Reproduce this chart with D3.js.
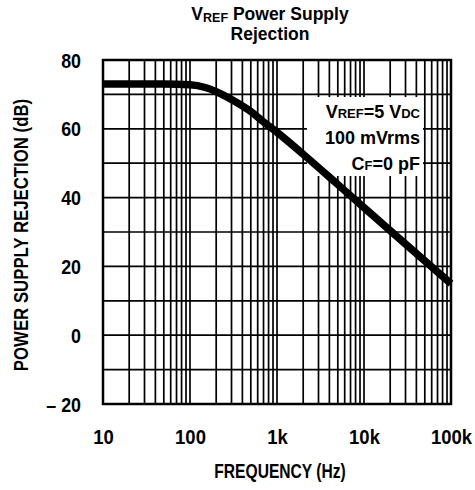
<!DOCTYPE html>
<html>
<head>
<meta charset="utf-8">
<script src="https://cdn.jsdelivr.net/npm/d3@7"></script>
<style>
  html, body { margin: 0; padding: 0; background: #fff; }
  svg { display: block; }
  text { font-family: "Liberation Sans", Arial, Helvetica, sans-serif; font-weight: bold; fill: #000; }
</style>
</head>
<body>
<svg id="chart" width="475" height="490"></svg>
<script>
// ---- data ----
const freqHz = [10, 50, 100, 150, 200, 300, 500, 700, 1000, 2000, 5000, 10000, 20000, 50000, 100000];
const rejectionDb = [73, 73, 72.8, 72, 70.8, 68.5, 65, 62, 59, 52.6, 43.8, 37.1, 30.4, 21.6, 15];
const xTickValues = [10, 100, 1000, 10000, 100000];
const xTickLabels = ["10", "100", "1k", "10k", "100k"];
const yTickValues = [-20, 0, 20, 40, 60, 80];
const yGridValues = [-10, 0, 10, 20, 30, 40, 50, 60, 70];
const annotationLines = [
  [["V", 0], ["REF", 1], ["=5 V", 0], ["DC", 1]],
  [["100 mVrms", 0]],
  [["C", 0], ["F", 1], ["=0 pF", 0]]
];

// ---- layout ----
const svg = d3.select("#chart");
const pLeft = 103, pRight = 451, pTop = 60, pBottom = 404;
const x = d3.scaleLog().domain([10, 100000]).range([pLeft, pRight]);
const y = d3.scaleLinear().domain([-20, 80]).range([pBottom, pTop]);

// condensed text helper
function ctext(parent, tx, ty, str, size, sx, anchor, rot) {
  const gg = parent.append("g").attr("transform", `translate(${tx},${ty}) rotate(${rot || 0}) scale(${sx},1)`);
  return gg.append("text").attr("text-anchor", anchor).style("font-size", size + "px").text(str);
}

// minor log grid (1..9 per decade)
const vGrid = [];
for (let d = 10; d < 100000; d *= 10) for (let k = 2; k <= 9; k++) vGrid.push(d * k);
for (let d = 100; d < 100000; d *= 10) vGrid.push(d);

const g = svg.append("g");
g.selectAll("line.v").data(vGrid).join("line")
  .attr("x1", d => x(d)).attr("x2", d => x(d))
  .attr("y1", pTop).attr("y2", pBottom)
  .attr("stroke", "#000").attr("stroke-width", 1.7);
g.selectAll("line.h").data(yGridValues).join("line")
  .attr("x1", pLeft).attr("x2", pRight)
  .attr("y1", d => y(d)).attr("y2", d => y(d))
  .attr("stroke", "#000").attr("stroke-width", 1.7);

// annotation background (white box hides grid)
g.append("rect").attr("x", 307).attr("y", 97).attr("width", 116).attr("height", 79).attr("fill", "#fff");

// border
g.append("rect").attr("x", pLeft).attr("y", pTop).attr("width", pRight - pLeft).attr("height", pBottom - pTop)
  .attr("fill", "none").attr("stroke", "#000").attr("stroke-width", 2.5);

// curve
const pts = freqHz.map((f, i) => [f, rejectionDb[i]]);
g.append("path").datum(pts)
  .attr("d", d3.line().x(d => x(d[0])).y(d => y(d[1])).curve(d3.curveMonotoneX))
  .attr("fill", "none").attr("stroke", "#000").attr("stroke-width", 7.5)
  .attr("stroke-linecap", "butt");

// annotation text
annotationLines.forEach((parts, i) => {
  const t = g.append("text").attr("x", 420).attr("y", 118 + i * 26)
    .attr("text-anchor", "end").style("font-size", "18px");
  parts.forEach(([s, sub]) => {
    t.append("tspan").text(s).style("font-size", sub ? "13px" : "18px");
  });
});

// x axis labels
const xAxis = d3.axisBottom(x).tickValues(xTickValues).tickFormat((d, i) => xTickLabels[i]).tickSize(0).tickPadding(0);
const xa = svg.append("g").attr("transform", `translate(0, 444)`).call(xAxis);
xa.attr("font-family", null).attr("font-size", null);
xa.select(".domain").remove();
xa.selectAll("text").attr("dy", 0).attr("y", 0).style("font-size", "21px").attr("transform", "scale(0.88,1)");

// y axis labels
const yAxis = d3.axisLeft(y).tickValues(yTickValues).tickFormat(d => d < 0 ? "\u2013 " + Math.abs(d) : d).tickSize(0).tickPadding(0);
const ya = svg.append("g").attr("transform", `translate(81, 0)`).call(yAxis);
ya.attr("font-family", null).attr("font-size", null);
ya.select(".domain").remove();
ya.selectAll("text").attr("x", 0).attr("dy", "0.34em").style("font-size", "21px").attr("transform", "scale(0.85,1)");

// axis titles
ctext(svg, 280, 478, "FREQUENCY (Hz)", 20, 0.78, "middle");
ctext(svg, 28, 235, "POWER SUPPLY REJECTION (dB)", 20, 0.84, "middle", -90);

// title
const t1 = svg.append("text").attr("x", 270).attr("y", 20).attr("text-anchor", "middle").style("font-size", "17.5px");
t1.append("tspan").text("V");
t1.append("tspan").text("REF").style("font-size", "12.5px").attr("dy", 2);
t1.append("tspan").text(" Power Supply").attr("dy", -2);
svg.append("text").attr("x", 270).attr("y", 40).attr("text-anchor", "middle").style("font-size", "17.5px").text("Rejection");
</script>
</body>
</html>
